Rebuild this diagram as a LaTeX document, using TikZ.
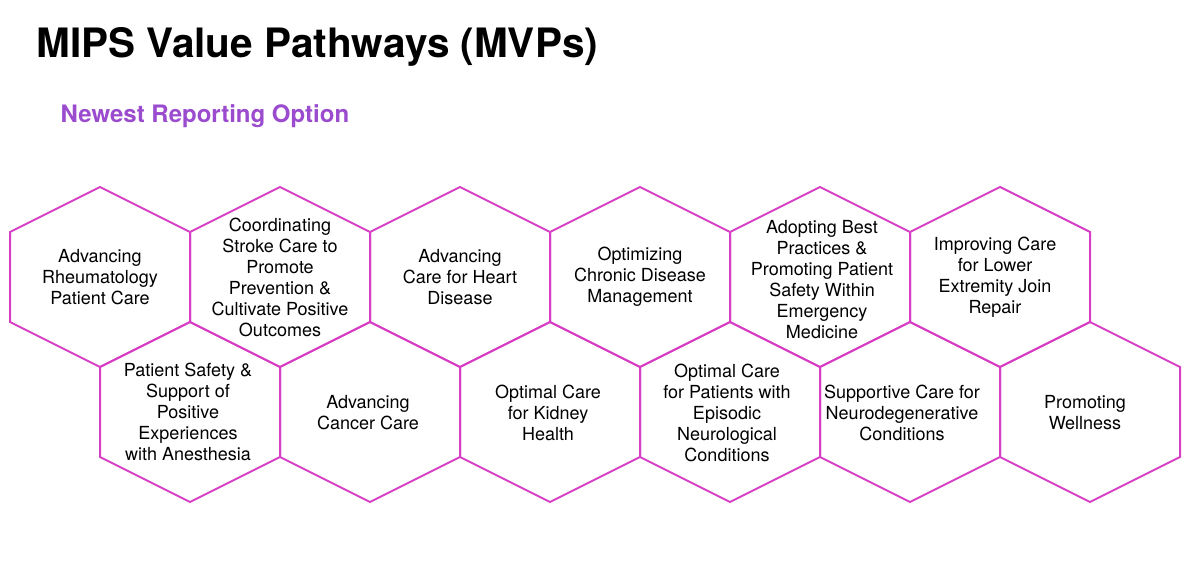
\documentclass[tikz,border=0pt]{standalone}
\usepackage{fontspec}
\setmainfont{TeX Gyre Heros}
\usetikzlibrary{positioning}
\definecolor{hexpink}{RGB}{214,62,196}
\definecolor{subpurple}{RGB}{155,75,205}
\tikzset{
    hexcell/.style={draw=hexpink, line width=2pt},
    hextext/.style={align=center, font=\fontsize{18}{21}\selectfont, text=black}
}
\begin{document}
\begin{tikzpicture}[x=1pt,y=-1pt]
    \useasboundingbox (0,0) rectangle (1184,561);

    % Title
    \node[anchor=west, font=\fontsize{40.5}{44}\selectfont\bfseries] (title) at (33,47) {MIPS Value Pathways (MVPs)};
    \node[anchor=west, font=\fontsize{24}{26}\selectfont\bfseries, text=subpurple] (subtitle) at (57,116) {Newest Reporting Option};

    % Top row
    \foreach \cx in {100,280,460,640,820,1000}{
        \draw[hexcell] (\cx,187) -- (\cx+90,232) -- (\cx+90,322) -- (\cx,367) -- (\cx-90,322) -- (\cx-90,232) -- cycle;
    }
    % Bottom row
    \foreach \cx in {190,370,550,730,910,1090}{
        \draw[hexcell] (\cx,322) -- (\cx+90,367) -- (\cx+90,457) -- (\cx,502) -- (\cx-90,457) -- (\cx-90,367) -- cycle;
    }

    % Labels
    \node[hextext] (rheum) at (100,277) {Advancing\\Rheumatology\\Patient Care};
    \node[hextext] (stroke) at (280,277) {Coordinating\\Stroke Care to\\Promote\\Prevention \&\\Cultivate Positive\\Outcomes};
    \node[hextext] (heart) at (460,277) {Advancing\\Care for Heart\\Disease};
    \node[hextext] (chronic) at (640,277) {Optimizing\\Chronic Disease\\Management};
    \node[hextext] (emerg) at (822,280) {Adopting Best\\Practices \&\\Promoting Patient\\Safety Within\\Emergency\\Medicine};
    \node[hextext] (extrem) at (995,277) {Improving Care\\for Lower\\Extremity Join\\Repair};
    \node[hextext] (anest) at (188,412) {Patient Safety \&\\Support of\\Positive\\Experiences\\with Anesthesia};
    \node[hextext] (cancer) at (368,413) {Advancing\\Cancer Care};
    \node[hextext] (kidney) at (548,413) {Optimal Care\\for Kidney\\Health};
    \node[hextext] (neuro) at (727,413) {Optimal Care\\for Patients with\\Episodic\\Neurological\\Conditions};
    \node[hextext] (degen) at (902,413) {Supportive Care for\\Neurodegenerative\\Conditions};
    \node[hextext] (well) at (1085,413) {Promoting\\Wellness};
\end{tikzpicture}
\end{document}
